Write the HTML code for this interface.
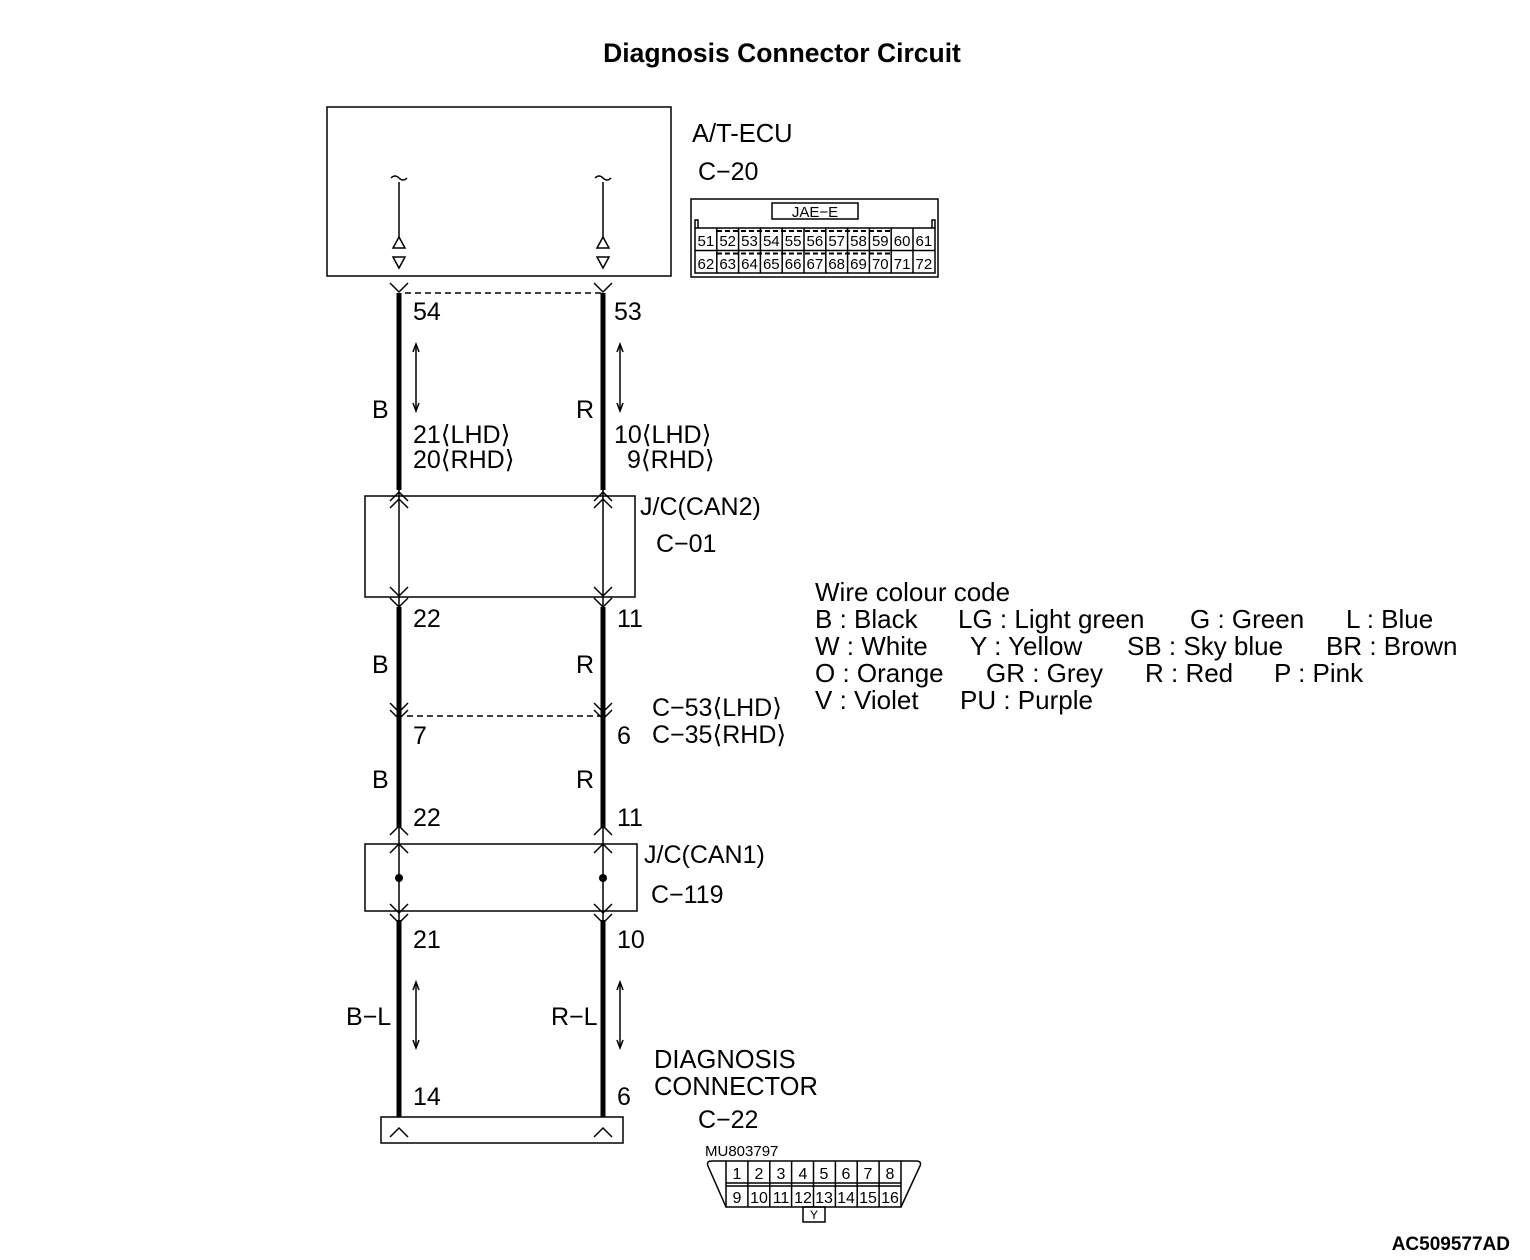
<!DOCTYPE html>
<html><head><meta charset="utf-8"><style>
html,body{margin:0;padding:0;background:#fff}
svg{display:block}
text{font-family:"Liberation Sans Narrow","Liberation Sans",sans-serif;fill:#000}
.n{font-size:25px}
.s{font-size:15px}
.a{font-family:"Liberation Sans",sans-serif;font-size:25.5px}
.w{font-family:"Liberation Sans",sans-serif;font-size:26px}
</style></head><body>
<svg width="1530" height="1260" viewBox="0 0 1530 1260" xmlns="http://www.w3.org/2000/svg">
<text x="782" y="62" text-anchor="middle" style="font-family:'Liberation Sans',sans-serif;font-weight:bold;font-size:26.5px">Diagnosis Connector Circuit</text>
<text x="1510" y="1250" text-anchor="end" style="font-family:'Liberation Sans',sans-serif;font-weight:bold;font-size:19px">AC509577AD</text>

<g stroke="#000" fill="none" stroke-width="1.5">
<rect x="327" y="107" width="344" height="169"/>
<path d="M399 182V238M603 182V238"/>
<path d="M391 178q4-4 8 0t8 0M595 178q4-4 8 0t8 0"/>
<path d="M393 248l6-11 6 11zM393 257l6 11 6-11zM597 248l6-11 6 11zM597 257l6 11 6-11z"/>
<path d="M390 283l9 9 9-9M594 283l9 9 9-9"/>
<path d="M405 293H603" stroke-dasharray="6,4"/>
<rect x="365" y="496" width="270" height="101"/>
<path d="M399 490V607M603 490V607"/>
<path d="M390 501l9-9 9 9M594 501l9-9 9 9M390 508l9-9 9 9M594 508l9-9 9 9"/>
<path d="M390 587l9 9 9-9M594 587l9 9 9-9M390 598l9 9 9-9M594 598l9 9 9-9"/>
<path d="M390 703l9 9 9-9M594 703l9 9 9-9M390 710l9 9 9-9M594 710l9 9 9-9"/>
<path d="M407 716H600" stroke-dasharray="6,4"/>
<rect x="365" y="844" width="272" height="67"/>
<path d="M399 828V920M603 828V920"/>
<path d="M390 835l9-9 9 9M594 835l9-9 9 9M390 853l9-9 9 9M594 853l9-9 9 9"/>
<path d="M390 904l9 9 9-9M594 904l9 9 9-9M390 914l9 9 9-9M594 914l9 9 9-9"/>
<rect x="381" y="1117" width="242" height="26"/>
<path d="M390 1137l9-9 9 9M594 1137l9-9 9 9"/>
<path d="M416 345V410M620 345V410M416 983V1047M620 983V1047"/>
<path d="M413 352l3-8 3 8M413 403l3 8 3-8M617 352l3-8 3 8M617 403l3 8 3-8M413 990l3-8 3 8M413 1040l3 8 3-8M617 990l3-8 3 8M617 1040l3 8 3-8"/>
<rect x="691" y="199" width="247" height="78"/>
<rect x="772" y="203" width="86" height="16"/>
<path d="M695 228V220h3v8M935 228V220h-3v8"/>
<rect x="695" y="228" width="240" height="45"/>
<path d="M695 250.5H935"/>
<path d="M716.8 228V273M738.6 228V273M760.4 228V273M782.2 228V273M804 228V273M825.8 228V273M847.6 228V273M869.4 228V273M891.2 228V273M913 228V273"/>
<path d="M717 231H891M717 253.5H891" stroke-dasharray="5,3" stroke-width="2"/>
<path d="M726 1161H712q-6 0-4 5l18 41M901 1161h15q6 0 4 5l-19 41"/>
<rect x="726" y="1161" width="175" height="46"/>
<path d="M726 1183H901M726 1186H901"/>
<path d="M747.9 1161V1207M769.8 1161V1207M791.6 1161V1207M813.5 1161V1207M835.4 1161V1207M857.2 1161V1207M879.1 1161V1207"/>
<rect x="803" y="1207" width="22" height="15"/>
</g>
<g stroke="#000" stroke-width="5">
<path d="M399 293V490M603 293V490M399 607V828M603 607V828M399 920V1117M603 920V1117"/>
</g>
<circle cx="399" cy="878" r="4"/><circle cx="603" cy="878" r="4"/>

<text class="a" x="692" y="142">A/T-ECU</text>
<text class="n" x="698" y="180">C−20</text>
<text class="s" x="815" y="217" text-anchor="middle">JAE−E</text>
<g class="s" text-anchor="middle">
<text x="705.9" y="246">51</text><text x="727.7" y="246">52</text><text x="749.5" y="246">53</text><text x="771.3" y="246">54</text><text x="793.1" y="246">55</text><text x="814.9" y="246">56</text><text x="836.7" y="246">57</text><text x="858.5" y="246">58</text><text x="880.3" y="246">59</text><text x="902.1" y="246">60</text><text x="923.9" y="246">61</text>
<text x="705.9" y="269">62</text><text x="727.7" y="269">63</text><text x="749.5" y="269">64</text><text x="771.3" y="269">65</text><text x="793.1" y="269">66</text><text x="814.9" y="269">67</text><text x="836.7" y="269">68</text><text x="858.5" y="269">69</text><text x="880.3" y="269">70</text><text x="902.1" y="269">71</text><text x="923.9" y="269">72</text>
</g>
<g class="n">
<text x="413" y="320">54</text><text x="614" y="320">53</text>
<text x="372" y="418">B</text><text x="576" y="418">R</text>
<text x="413" y="443">21⟨LHD⟩</text><text x="413" y="468">20⟨RHD⟩</text>
<text x="614" y="443">10⟨LHD⟩</text><text x="627" y="468">9⟨RHD⟩</text>
<text x="640" y="515">J/C(CAN2)</text>
<text x="656" y="552">C−01</text>
<text x="413" y="627">22</text><text x="617" y="627">11</text>
<text x="372" y="673">B</text><text x="576" y="673">R</text>
<text x="652" y="716">C−53⟨LHD⟩</text><text x="652" y="743">C−35⟨RHD⟩</text>
<text x="413" y="744">7</text><text x="617" y="744">6</text>
<text x="372" y="788">B</text><text x="576" y="788">R</text>
<text x="413" y="826">22</text><text x="617" y="826">11</text>
<text x="644" y="863">J/C(CAN1)</text>
<text x="651" y="903">C−119</text>
<text x="413" y="948">21</text><text x="617" y="948">10</text>
<text x="346" y="1025">B−L</text><text x="551" y="1025">R−L</text>
<text x="413" y="1105">14</text><text x="617" y="1105">6</text>
<text x="698" y="1128">C−22</text>
</g>
<text class="a" x="654" y="1068">DIAGNOSIS</text>
<text class="a" x="654" y="1095">CONNECTOR</text>
<text class="s" x="705" y="1156">MU803797</text>
<g class="s" text-anchor="middle" style="font-size:16px">
<text x="737" y="1179">1</text><text x="759" y="1179">2</text><text x="781" y="1179">3</text><text x="803" y="1179">4</text><text x="824" y="1179">5</text><text x="846" y="1179">6</text><text x="868" y="1179">7</text><text x="890" y="1179">8</text>
<text x="737" y="1203">9</text><text x="759" y="1203">10</text><text x="781" y="1203">11</text><text x="803" y="1203">12</text><text x="824" y="1203">13</text><text x="846" y="1203">14</text><text x="868" y="1203">15</text><text x="890" y="1203">16</text>
<text x="814" y="1219" style="font-size:12px">Y</text>
</g>
<g class="w">
<text x="815" y="601">Wire colour code</text>
<text x="815" y="628">B : Black</text><text x="958" y="628">LG : Light green</text><text x="1190" y="628">G : Green</text><text x="1346" y="628">L : Blue</text>
<text x="815" y="655">W : White</text><text x="970" y="655">Y : Yellow</text><text x="1127" y="655">SB : Sky blue</text><text x="1326" y="655">BR : Brown</text>
<text x="815" y="682">O : Orange</text><text x="986" y="682">GR : Grey</text><text x="1145" y="682">R : Red</text><text x="1274" y="682">P : Pink</text>
<text x="815" y="709">V : Violet</text><text x="960" y="709">PU : Purple</text>
</g>
</svg>
</body></html>
